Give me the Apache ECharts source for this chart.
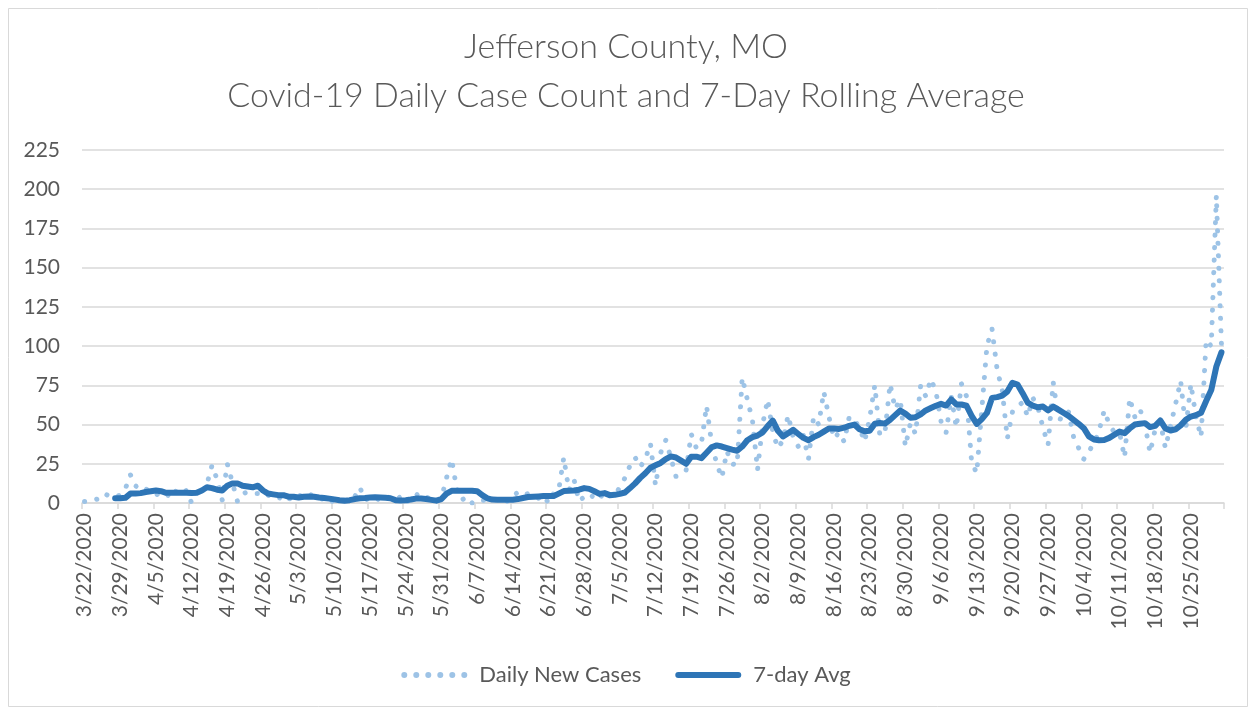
<!DOCTYPE html>
<html>
<head>
<meta charset="utf-8">
<script src="https://cdn.jsdelivr.net/npm/echarts@6/dist/echarts.min.js"></script>
<style>
html,body{margin:0;padding:0;background:#fff;}
#chart{width:1252px;height:711px;}
</style>
</head>
<body>
<div id="chart"></div>
<script>
// ---- data ----
const startDate = [2020, 3, 22];
const dayCount = 224; // 3/22/2020 .. 10/31/2020
const titleLines = ['Jefferson County, MO', 'Covid-19 Daily Case Count and 7-Day Rolling Average'];
const seriesNames = ['Daily New Cases', '7-day Avg'];

const dailyNewCases = [
  1,1,2,3,6,4,4,5,9,18,
  11,8,9,7,5,7,6,3,8,6,
  8,0,9,7,12,24,15,2,25,13,
  1,6,7,6,6,4,5,3,4,1,
  3,2,5,4,6,4,2,3,0,2,
  1,2,3,4,10,2,3,4,1,3,
  4,2,4,0,3,6,3,4,2,1,
  3,16,28,9,2,4,0,0,2,1,
  2,2,3,1,4,7,5,6,4,3,
  5,0,6,8,29,8,15,1,4,6,
  3,2,8,5,5,10,16,24,29,23,
  28,38,11,32,40,29,17,20,21,44,
  35,38,62,38,25,16,33,25,24,80,
  66,53,21,50,66,45,35,40,56,42,
  36,43,28,55,50,71,55,41,45,39,
  55,53,48,39,54,75,43,45,76,60,
  66,36,51,44,75,68,79,71,52,45,
  68,48,76,68,26,19,60,100,111,85,
  72,41,58,62,64,55,67,61,48,37,
  77,54,53,58,42,35,28,33,38,46,
  59,50,45,45,29,67,55,60,50,32,
  47,52,35,49,63,78,47,76,55,42,
  104,100,196,101
];

const sevenDayAvg = [
  null,null,null,null,null,null,3,3,3.3,6,
  6,6.3,7,7.5,8,7.5,6.5,6.5,6.5,6.5,
  6.5,6.3,6.5,8,10,9.5,8.5,8,11,12.5,
  12.5,11,10.5,10,11,8,6,5.5,5,5,
  4,4,3.5,4,4.2,4,3.5,3.2,2.8,2.3,
  1.8,1.5,1.8,2.5,3,3.2,3.5,3.7,3.5,3.3,
  3,1.8,1.6,1.8,2.2,2.8,2.9,2.5,2,1.5,
  2.5,6,7.8,7.8,7.8,7.8,7.8,7.5,5,3,
  2.2,2.1,2,2,2.1,2.5,3.2,3.8,4,4.2,
  4.4,4.4,4.4,6,7.6,7.8,8,8.5,9.5,9,
  7.5,5.8,6.3,5,5.2,5.8,6.7,9.5,12.5,16,
  19,22.5,24,25.5,28,29.7,29,27,25,29.5,
  29.5,28.6,32,35.5,36.7,36,35,34,33.3,36,
  40,42,43,45,49,52.5,46,42.4,44.5,46.6,
  44,41.5,40,42,43.5,45.5,47.5,47.5,47.2,48,
  49.2,50,47,45.7,46,50.5,51,50.6,53,56,
  58.9,57,54.3,54.7,56.5,59,60.5,62,63.2,62.1,
  66,62.8,62.8,62,55.5,50.4,53.5,57.4,67,67.5,
  68.5,71,76.6,75.5,70,64,62,61,61.5,59,
  61.5,59.5,57.5,55.5,53,50.5,47.7,42.5,40.5,40,
  40.2,41.5,43.5,45.5,44.5,47.5,50,50.5,50.9,48.4,
  49.2,52.6,47.5,46.2,47,49.5,53,55.1,56,57.5,
  65,72,87,96
];

const yTicks = { min: 0, max: 225, interval: 25 };

// category labels (dates)
const dateLabels = [];
(function(){
  const d = new Date(startDate[0], startDate[1]-1, startDate[2]);
  for (let i = 0; i < dayCount; i++) {
    dateLabels.push((d.getMonth()+1) + '/' + d.getDate() + '/' + d.getFullYear());
    d.setDate(d.getDate()+1);
  }
})();

// legend icons
let dotsPath = 'path://';
for (let k = 0; k < 6; k++) {
  const cx = 3 + k * 12;
  dotsPath += 'M' + (cx - 3) + ',3a3,3 0 1,0 6,0a3,3 0 1,0 -6,0Z';
}
const barPath = 'path://M3,0h60a3,3 0 0 1 0,6h-60a3,3 0 0 1 0,-6Z';

// ---- chart ----
const FONT = 'Lato';
const GRAY = '#595959';
const chart = echarts.init(document.getElementById('chart'), null, {renderer:'canvas'});
chart.setOption({
  backgroundColor: '#ffffff',
  animation: false,
  textStyle: { fontFamily: FONT },
  graphic: [{
    type: 'rect', left: 6, top: 6, silent: true,
    shape: { width: 1239, height: 698 },
    style: { fill: 'none', stroke: '#d9d9d9', lineWidth: 1 }
  }],
  title: {
    text: titleLines.join('\n'),
    left: 'center', top: 18,
    textStyle: { fontFamily: FONT, fontSize: 34, fontWeight: 300, color: GRAY, lineHeight: 49 }
  },
  grid: { left: 82, right: 28, top: 150, bottom: 208, containLabel: false },
  legend: {
    bottom: 20, left: 'center',
    itemWidth: 68, itemHeight: 6, itemGap: 34,
    textStyle: { fontFamily: FONT, fontSize: 22, color: GRAY, padding: [0, 0, 0, 6] },
    data: [
      { name: seriesNames[0], icon: dotsPath },
      { name: seriesNames[1], icon: barPath }
    ]
  },
  xAxis: {
    type: 'category',
    data: dateLabels,
    boundaryGap: true,
    axisLine: { lineStyle: { color: '#d9d9d9', width: 1.5 } },
    axisTick: { show: true, interval: 6, length: 6, lineStyle: { color: '#d9d9d9', width: 1.5 } },
    axisLabel: { interval: 6, rotate: 90, margin: 10, fontFamily: FONT, fontSize: 21, color: GRAY }
  },
  yAxis: {
    type: 'value',
    min: yTicks.min, max: yTicks.max, interval: yTicks.interval,
    axisLine: { show: false }, axisTick: { show: false },
    axisLabel: { margin: 22, fontFamily: FONT, fontSize: 21, color: GRAY },
    splitLine: { lineStyle: { color: '#d9d9d9', width: 1.5 } }
  },
  series: [
    {
      name: seriesNames[0], type: 'line', data: dailyNewCases,
      symbol: 'none', showSymbol: false,
      lineStyle: { color: '#9dc3e6', width: 5, type: [0.1, 12.4], cap: 'round', join: 'round' },
      itemStyle: { color: '#9dc3e6' }
    },
    {
      name: seriesNames[1], type: 'line', data: sevenDayAvg,
      symbol: 'none', showSymbol: false, connectNulls: false,
      lineStyle: { color: '#2e75b6', width: 6, cap: 'round', join: 'round' },
      itemStyle: { color: '#2e75b6' }
    }
  ]
});
</script>
</body>
</html>
